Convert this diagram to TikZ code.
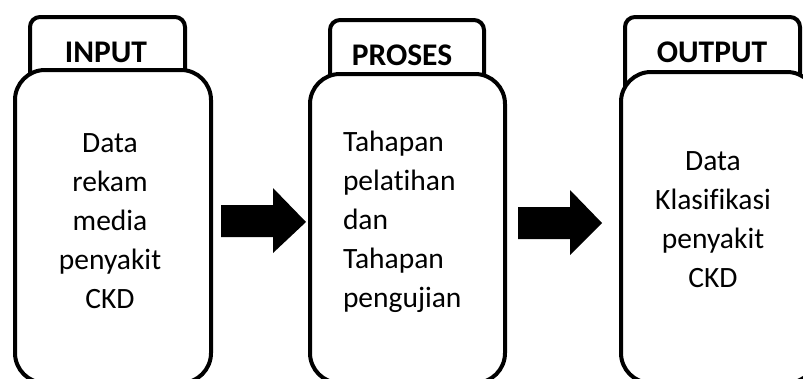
\documentclass[tikz,border=0pt]{standalone}
\usepackage{fontspec}
\setmainfont{Carlito}[Ligatures=NoCommon]
\begin{document}
\begin{tikzpicture}[x=1pt,y=-1pt,line width=4pt,
  tabbox/.style={draw=black,rounded corners=10pt,fill=white,inner sep=0pt,anchor=north west},
  mainbox/.style={draw=black,rounded corners=30pt,fill=white,inner sep=0pt,anchor=north west},
  headtext/.style={font=\fontsize{31.5}{37}\selectfont\bfseries,inner sep=0pt,anchor=base},
  bodytext/.style={font=\fontsize{29.5}{39}\selectfont,inner sep=0pt},
  blockarrow/.style={fill=black,draw=none}]
\useasboundingbox (0,0) rectangle (803,378);
\clip (0,0) rectangle (803,378);
% tabs
\node[tabbox,minimum width=155pt,minimum height=80pt] (tab1) at (28,15) {};
\node[tabbox,minimum width=154pt,minimum height=80pt] (tab2) at (328,18) {};
\node[tabbox,minimum width=175pt,minimum height=80pt] (tab3) at (623,15) {};
% main boxes
\node[mainbox,minimum width=196pt,minimum height=313pt] (box1) at (13,68) {};
\node[mainbox,minimum width=195pt,minimum height=309pt] (box2) at (308,72) {};
\node[mainbox,minimum width=196pt,minimum height=311pt] (box3) at (619,70) {};
% headers
\node[headtext] (h1) at (106,62) {INPUT};
\node[headtext] (h2) at (402,65) {PROSES};
\node[headtext] (h3) at (712,62) {OUTPUT};
% body texts (base anchor = last line's baseline)
\node[bodytext,align=center,anchor=base] (t1) at (110,308) {Data\\rekam\\media\\penyakit\\CKD};
\node[bodytext,align=left,anchor=base west] (t2) at (341,307) {Tahapan\\pelatihan\\dan\\Tahapan\\pengujian};
\node[bodytext,align=center,anchor=base] (t3) at (713,287) {Data\\Klasifikasi\\penyakit\\CKD};
% block arrows
\fill[blockarrow] (221,205) -- (273,205) -- (273,188) -- (306,222) -- (273,253) -- (273,237) -- (221,237) -- cycle;
\fill[blockarrow] (518,207) -- (570,207) -- (570,190) -- (602,223) -- (570,255) -- (570,239) -- (518,239) -- cycle;
\end{tikzpicture}
\end{document}
